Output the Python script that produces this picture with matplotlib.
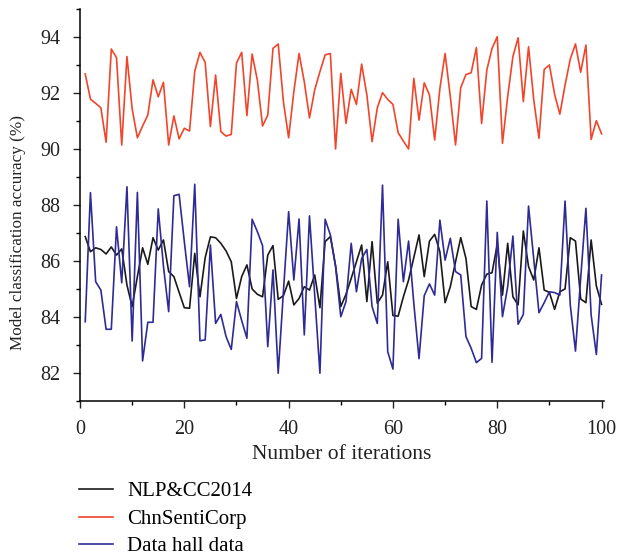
import numpy as np
import matplotlib
matplotlib.use("Agg")
import matplotlib.pyplot as plt
from matplotlib.ticker import MultipleLocator

plt.rcParams['font.family'] = ['Liberation Serif', 'DejaVu Serif']

iterations = np.arange(1, 101)

nlpcc2014 = [
    86.86, 86.32, 86.46, 86.40, 86.24, 86.49, 86.20, 86.42, 85.13, 84.36,
    85.43, 86.46, 85.87, 86.82, 86.38, 86.74, 85.61, 85.43, 84.87, 84.32,
    84.30, 86.26, 84.71, 86.11, 86.85, 86.82, 86.62, 86.35, 85.96, 84.65,
    85.43, 85.85, 84.99, 84.80, 84.71, 86.20, 86.54, 84.62, 84.75, 85.27,
    84.42, 84.65, 85.07, 84.95, 85.49, 84.32, 86.68, 86.86, 85.82, 84.36,
    84.80, 85.37, 85.96, 86.56, 84.54, 86.68, 84.48, 84.77, 85.96, 84.04,
    84.02, 84.71, 85.31, 86.11, 86.92, 85.43, 86.70, 86.94, 86.32, 84.50,
    85.07, 85.96, 86.82, 86.08, 84.36, 84.26, 85.13, 85.52, 85.57, 86.58,
    84.77, 86.62, 84.71, 84.42, 87.06, 85.79, 85.31, 86.46, 84.95, 84.87,
    84.26, 84.89, 84.99, 86.82, 86.70, 84.63, 84.50, 86.74, 85.10, 84.44,
]

chnsenticorp = [
    92.67, 91.77, 91.62, 91.46, 90.23, 93.56, 93.25, 90.13, 93.29, 91.42,
    90.39, 90.81, 91.20, 92.46, 91.85, 92.37, 90.13, 91.17, 90.35, 90.73,
    90.63, 92.77, 93.44, 93.08, 90.79, 92.63, 90.61, 90.45, 90.51, 93.06,
    93.44, 91.18, 93.38, 92.45, 90.81, 91.20, 93.58, 93.74, 91.68, 90.39,
    92.04, 93.40, 92.39, 91.10, 92.10, 92.75, 93.35, 93.40, 89.99, 92.69,
    90.90, 92.12, 91.58, 93.02, 91.92, 90.25, 91.46, 92.00, 91.76, 91.58,
    90.57, 90.27, 89.99, 92.51, 91.02, 92.35, 91.92, 90.31, 92.15, 93.40,
    91.86, 90.13, 92.18, 92.65, 92.71, 93.61, 90.90, 92.81, 93.58, 94.00,
    90.19, 91.86, 93.29, 93.96, 91.68, 93.64, 91.74, 90.37, 92.83, 92.99,
    91.94, 91.23, 92.27, 93.20, 93.74, 92.73, 93.70, 90.33, 91.00, 90.53,
]

data_hall = [
    83.82, 88.43, 85.25, 84.95, 83.55, 83.55, 87.21, 85.21, 88.64, 83.13,
    88.44, 82.42, 83.80, 83.80, 87.85, 85.80, 84.18, 88.32, 88.37, 86.68,
    85.07, 88.73, 83.14, 83.17, 86.56, 83.76, 84.08, 83.29, 82.83, 84.54,
    83.86, 83.23, 87.48, 87.04, 86.54, 82.93, 85.67, 81.98, 84.89, 87.75,
    85.31, 87.49, 83.35, 87.60, 84.77, 81.98, 87.48, 86.92, 85.79, 84.00,
    84.54, 86.62, 84.89, 86.08, 86.40, 84.36, 83.76, 88.70, 82.75, 82.13,
    87.48, 85.25, 86.70, 84.48, 82.50, 84.75, 85.17, 84.77, 87.45, 86.02,
    86.80, 85.61, 85.49, 83.29, 82.87, 82.36, 82.51, 88.13, 82.37, 87.01,
    84.00, 85.07, 86.88, 83.73, 84.08, 87.95, 86.05, 84.14, 84.50, 84.89,
    84.86, 84.77, 88.13, 84.42, 82.77, 85.39, 87.87, 84.06, 82.65, 85.49,
]

fig = plt.figure(figsize=(6.3, 5.6), dpi=100)
ax = fig.add_axes([0.127, 0.2845, 0.832, 0.70])

ax.plot(iterations, nlpcc2014, color='#1a1a1a', lw=1.2, label='NLP&CC2014')
ax.plot(iterations, chnsenticorp, color='#f0452b', lw=1.2, label='ChnSentiCorp')
ax.plot(iterations, data_hall, color='#2f2b95', lw=1.2, label='Data hall data')

ax.set_xlim(0, 100.5)
ax.set_ylim(81, 95)
ax.xaxis.set_major_locator(MultipleLocator(20))
ax.xaxis.set_minor_locator(MultipleLocator(10))
ax.yaxis.set_major_locator(MultipleLocator(2))
ax.yaxis.set_minor_locator(MultipleLocator(1))
ax.tick_params(which='major', direction='out', length=5, width=1, labelsize=14.5,
               colors='#222222')
ax.tick_params(axis='x', which='major', pad=9)
ax.tick_params(axis='y', which='major', pad=9)
ax.tick_params(which='minor', direction='out', length=3, width=1)

for side in ['top', 'right']:
    ax.spines[side].set_visible(False)
for side in ['left', 'bottom']:
    ax.spines[side].set_linewidth(1.1)

ax.set_xlabel('Number of iterations', fontsize=15.5, color='#222222', labelpad=4)
ax.set_ylabel('Model classification accuracy (%)', fontsize=12.3, color='#222222')
ax.yaxis.set_label_coords(-0.103, 0.43)

fig.legend(loc='upper left', bbox_to_anchor=(0.1255, 0.1395), frameon=False,
           fontsize=15, handlelength=1.65, handletextpad=0.65, labelspacing=0.38,
           borderaxespad=0, borderpad=0)

fig.savefig('out.png', dpi=100)
